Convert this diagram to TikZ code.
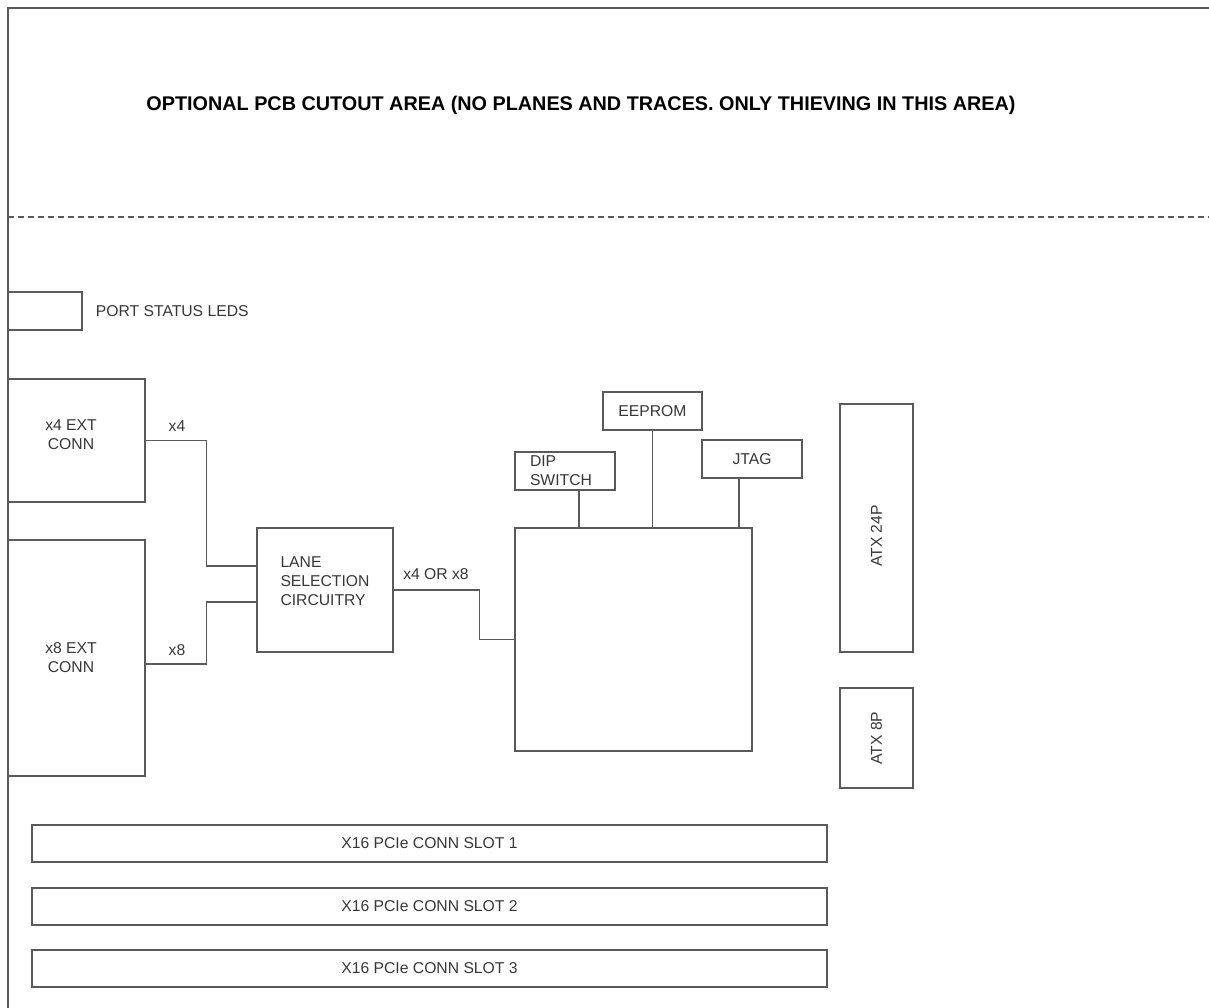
\documentclass[tikz,border=0pt]{standalone}
\usepackage{fontspec}
\setmainfont{Liberation Sans}
\usetikzlibrary{positioning,calc}
\definecolor{linegray}{RGB}{90,90,90}
\definecolor{textgray}{RGB}{55,55,55}

\begin{document}
\begin{tikzpicture}[x=1pt,y=-1pt,
  box/.style={draw=linegray,line width=1.4pt,inner sep=0pt,text=textgray,font=\fontsize{15.7}{19}\selectfont},
  lbl/.style={text=textgray,inner sep=0pt,font=\fontsize{15.7}{19}\selectfont},
  wire/.style={draw=linegray,line width=1.4pt}]
  \useasboundingbox (0,0) rectangle (1209,1008);
  \draw[wire] (1209,8) -- (8,8) -- (8,1008);
  \draw[wire,dash pattern=on 6pt off 4pt] (8,217) -- (1209,217);
  \node[inner sep=0pt,font=\fontsize{19.8}{24}\selectfont\bfseries] (cutout) at (581,105) {OPTIONAL PCB CUTOUT AREA (NO PLANES AND TRACES. ONLY THIEVING IN THIS AREA)};

  \node[box,minimum width=74,minimum height=38] (leds) at (45,311) {};
  \node[lbl,right=13pt of leds] (ledtxt) {PORT STATUS LEDS};

  \node[box,minimum width=137,minimum height=123] (x4conn) at (76.5,440.5) {};
  \node[lbl,align=center] (x4txt) at (71,435) {x4 EXT\\CONN};
  \node[box,minimum width=137,minimum height=236] (x8conn) at (76.5,658) {};
  \node[lbl,align=center] (x8txt) at (71,658) {x8 EXT\\CONN};
  \node[box,minimum width=136,minimum height=124] (lane) at (325,590) {};
  \node[lbl,align=left,anchor=north west] (lanetxt) at ([shift={(24,29)}]lane.north west) {LANE\\SELECTION\\CIRCUITRY};
  \node[box,minimum width=237,minimum height=223] (main) at (633.5,639.5) {};

  \node[box,minimum width=100,minimum height=38,text width=70,inner xsep=15,align=left] (dip) at (565,471) {DIP\\SWITCH};
  \node[box,minimum width=99,minimum height=38] (eeprom) at (652.5,411) {EEPROM};
  \node[box,minimum width=100,minimum height=38] (jtag) at (752,459) {JTAG};

  \node[box,minimum width=248,minimum height=73,rotate=90] (atx24) at (876.5,528) {};
  \node[lbl,rotate=90] (atx24txt) at (876.5,536) {ATX 24P};
  \node[box,minimum width=100,minimum height=73,rotate=90] (atx8) at (876.5,738) {ATX 8P};

  \foreach \n/\y in {1/843.5,2/906.5,3/968.5}
    \node[box,minimum width=795,minimum height=37] (slot\n) at (429.5,\y) {X16 PCIe CONN SLOT \n};

  \draw[wire] (x4conn.east) -- ++(61,0) |- ([yshift=24pt]lane.west);
  \draw[wire] ([yshift=-6pt]x8conn.east) -- ++(61,0) |- ([yshift=-12pt]lane.west);
  \draw[wire] (lane.east) -- ++(86,0) |- (main.west);
  \draw[wire] ([xshift=14pt]dip.south) -- ([xshift=14pt]dip.south |- main.north);
  \draw[wire] (eeprom.south) -- (eeprom.south |- main.north);
  \draw[wire] ([xshift=-13pt]jtag.south) -- ([xshift=-13pt]jtag.south |- main.north);

  \node[lbl] (x4lbl) at (177,426) {x4};
  \node[lbl] (x8lbl) at (177,650) {x8};
  \node[lbl] (widthlbl) at (436,574) {x4 OR x8};
\end{tikzpicture}
\end{document}
